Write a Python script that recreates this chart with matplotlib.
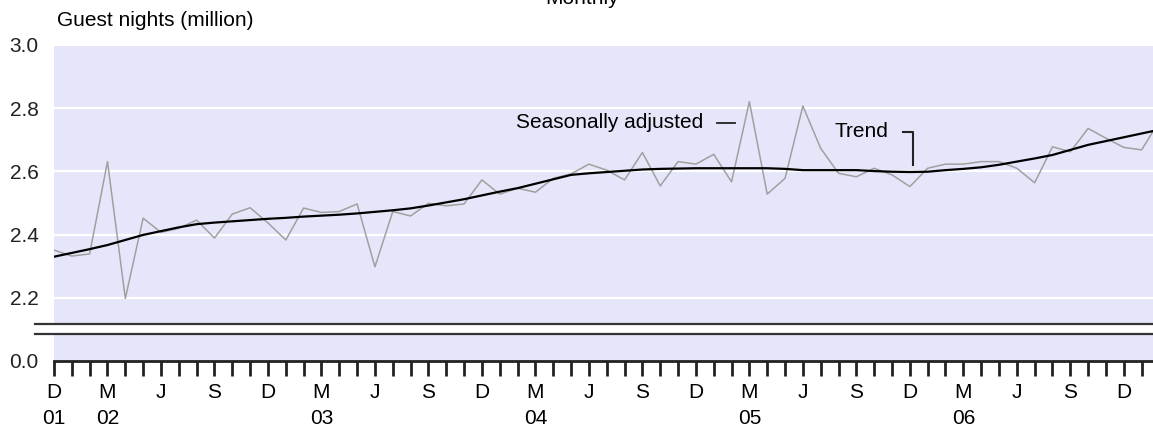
import numpy as np
import matplotlib
matplotlib.use('agg')
import matplotlib.pyplot as plt
from matplotlib.lines import Line2D

plt.rcParams['font.family'] = ['Liberation Sans', 'DejaVu Sans']

# monthly index 0 = Dec 2001
months = list(range(63))
seas_adj = [2.351, 2.332, 2.339, 2.631, 2.198, 2.452, 2.407, 2.420, 2.446, 2.389,
            2.465, 2.485, 2.437, 2.383, 2.484, 2.470, 2.473, 2.497, 2.298, 2.473,
            2.459, 2.499, 2.491, 2.497, 2.573, 2.528, 2.547, 2.534, 2.578, 2.592,
            2.623, 2.604, 2.573, 2.660, 2.554, 2.631, 2.623, 2.654, 2.567, 2.821,
            2.528, 2.578, 2.807, 2.673, 2.594, 2.583, 2.610, 2.589, 2.552, 2.610,
            2.623, 2.623, 2.631, 2.631, 2.610, 2.564, 2.678, 2.662, 2.736, 2.705,
            2.676, 2.668, 2.760]
trend = [2.330, 2.342, 2.354, 2.367, 2.383, 2.399, 2.411, 2.423, 2.433, 2.438,
         2.442, 2.446, 2.450, 2.453, 2.457, 2.460, 2.463, 2.467, 2.472, 2.477,
         2.483, 2.492, 2.502, 2.512, 2.524, 2.536, 2.547, 2.561, 2.575, 2.589,
         2.594, 2.598, 2.602, 2.606, 2.608, 2.609, 2.610, 2.610, 2.610, 2.610,
         2.610, 2.608, 2.604, 2.604, 2.604, 2.604, 2.601, 2.599, 2.598, 2.599,
         2.604, 2.608, 2.613, 2.621, 2.631, 2.641, 2.652, 2.668, 2.684, 2.696,
         2.708, 2.720, 2.732]
month_letters = ['D', 'M', 'J', 'S']
year_labels = {0: '01', 3: '02', 15: '03', 27: '04', 39: '05', 51: '06'}
yticks = [2.2, 2.4, 2.6, 2.8, 3.0]

W, H = 1153, 430
bg = '#e6e6fa'
fsize = 15

def fx(x):
    return x / W

def fy(y):
    return 1 - y / H

fig = plt.figure(figsize=(W / 100, H / 100), dpi=100)
fig.patch.set_facecolor('white')

xmax = (1153 - 54) / 17.83
ax = fig.add_axes([fx(54), fy(324), fx(1153) - fx(54), fy(45) - fy(324)])
ax.set_facecolor(bg)
ax.set_xlim(0, xmax)
ax.set_ylim(3.0 - (324 - 45) / 316, 3.0)
for s in ax.spines.values():
    s.set_visible(False)
ax.set_yticks(yticks)
ax.set_yticklabels(['%.1f' % v for v in yticks], fontsize=fsize, color='#222222')
ax.tick_params(axis='y', length=0, pad=11)
ax.set_xticks([])
for v in yticks:
    ax.axhline(v, color='white', linewidth=1.6, zorder=1)
ax.plot(months, seas_adj, color='#a0a0a0', linewidth=1.1, zorder=3)
ax.plot(months, trend, color='black', linewidth=1.6, zorder=4)

# annotations
ax.text(36.4, 2.756, 'Seasonally adjusted', fontsize=fsize, ha='right', va='center')
ax.plot([37.2, 38.2], [2.754, 2.754], color='#222222', linewidth=1.3)
ax.text(43.8, 2.726, 'Trend', fontsize=fsize, ha='left', va='center')
ax.plot([47.6, 48.2, 48.2], [2.725, 2.725, 2.620], color='#222222', linewidth=1.5)

# lower section (0.0)
ax2 = fig.add_axes([fx(54), fy(361), fx(1153) - fx(54), fy(334) - fy(361)])
ax2.set_facecolor(bg)
ax2.set_xlim(0, xmax)
ax2.set_ylim(0, 27 / 316)
for k in ['top', 'left', 'right']:
    ax2.spines[k].set_visible(False)
ax2.spines['bottom'].set_linewidth(2)
ax2.spines['bottom'].set_color('#222222')
ax2.set_yticks([0.0])
ax2.set_yticklabels(['0.0'], fontsize=fsize, color='#222222')
ax2.tick_params(axis='y', length=0, pad=11)
xt = list(range(62))
labs = []
for i in xt:
    if i % 3 == 0:
        lab = month_letters[(i // 3) % 4]
        if i in year_labels:
            lab = lab + '\n' + year_labels[i]
        labs.append(lab)
    else:
        labs.append('')
ax2.set_xticks(xt)
ax2.set_xticklabels(labs, fontsize=fsize, linespacing=1.45, va='top')
ax2.tick_params(axis='x', length=11, width=2, color='#222222', pad=5)

# axis break lines
for yb in [324, 334]:
    fig.add_artist(Line2D([fx(35), 1.0], [fy(yb), fy(yb)], color='#333333', linewidth=1.6))

fig.text(fx(57), fy(21), 'Guest nights (million)', fontsize=fsize, ha='left', va='center')
fig.text(fx(582), fy(4.5), 'Monthly', fontsize=fsize, ha='center', va='baseline')

plt.savefig('out.png', dpi=100, facecolor='white')
